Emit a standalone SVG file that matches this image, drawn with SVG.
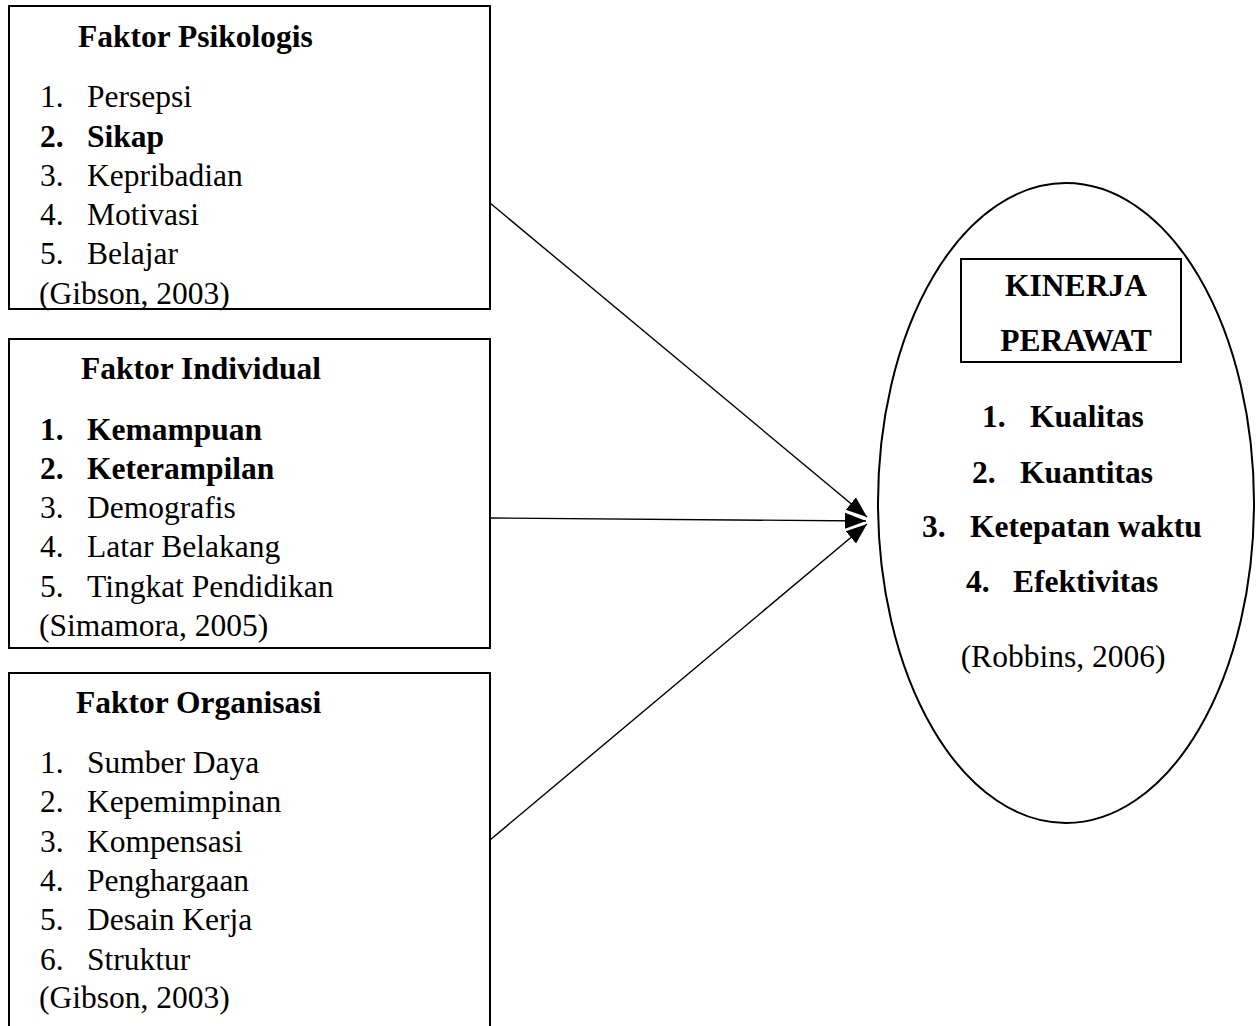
<svg xmlns="http://www.w3.org/2000/svg" width="1256" height="1026" viewBox="0 0 1256 1026">
<defs>
<style>
text{font-family:"Liberation Serif","Times New Roman",serif;font-size:31.5px;fill:#000}
.b{font-weight:bold}
.box{fill:#fff;stroke:#000;stroke-width:2}
.conn{stroke:#000;stroke-width:1.4;fill:none;marker-end:url(#ah)}
.c{text-anchor:middle}
</style>
<marker id="ah" markerUnits="userSpaceOnUse" markerWidth="24" markerHeight="20" refX="21" refY="9" orient="auto">
<path d="M0,1 L21,9 L0,17 Z" fill="#000"/>
</marker>
</defs>
<rect width="1256" height="1026" fill="#fff"/>
<g id="psikologis">
<rect class="box" x="9" y="6" width="481" height="303"/>
<text class="b" x="78" y="47">Faktor Psikologis</text>
<text x="40" y="107">1.</text><text x="87" y="107">Persepsi</text>
<text class="b" x="40" y="147">2.</text><text class="b" x="87" y="147">Sikap</text>
<text x="40" y="186">3.</text><text x="87" y="186">Kepribadian</text>
<text x="40" y="225">4.</text><text x="87" y="225">Motivasi</text>
<text x="40" y="264">5.</text><text x="87" y="264">Belajar</text>
<text x="39" y="304">(Gibson, 2003)</text>
</g>
<g id="individual">
<rect class="box" x="9" y="339" width="481" height="309"/>
<text class="b" x="81" y="379">Faktor Individual</text>
<text class="b" x="40" y="440">1.</text><text class="b" x="87" y="440">Kemampuan</text>
<text class="b" x="40" y="479">2.</text><text class="b" x="87" y="479">Keterampilan</text>
<text x="40" y="518">3.</text><text x="87" y="518">Demografis</text>
<text x="40" y="557">4.</text><text x="87" y="557">Latar Belakang</text>
<text x="40" y="597">5.</text><text x="87" y="597">Tingkat Pendidikan</text>
<text x="39" y="636">(Simamora, 2005)</text>
</g>
<g id="organisasi">
<rect class="box" x="9" y="673" width="481" height="370"/>
<text class="b" x="76" y="713">Faktor Organisasi</text>
<text x="40" y="773">1.</text><text x="87" y="773">Sumber Daya</text>
<text x="40" y="812">2.</text><text x="87" y="812">Kepemimpinan</text>
<text x="40" y="852">3.</text><text x="87" y="852">Kompensasi</text>
<text x="40" y="891">4.</text><text x="87" y="891">Penghargaan</text>
<text x="40" y="930">5.</text><text x="87" y="930">Desain Kerja</text>
<text x="40" y="970">6.</text><text x="87" y="970">Struktur</text>
<text x="39" y="1008">(Gibson, 2003)</text>
</g>
<g id="kinerja">
<ellipse cx="1066" cy="503" rx="188" ry="320" fill="#fff" stroke="#000" stroke-width="2"/>
<rect class="box" x="961" y="259" width="220" height="103"/>
<text class="b c" x="1076" y="296">KINERJA</text>
<text class="b c" x="1076" y="351">PERAWAT</text>
<text class="b" x="982" y="427">1.</text><text class="b" x="1030" y="427">Kualitas</text>
<text class="b" x="972" y="483">2.</text><text class="b" x="1020" y="483">Kuantitas</text>
<text class="b" x="922" y="537">3.</text><text class="b" x="970" y="537">Ketepatan waktu</text>
<text class="b" x="966" y="592">4.</text><text class="b" x="1013" y="592">Efektivitas</text>
<text class="c" x="1063" y="667">(Robbins, 2006)</text>
</g>
<g id="connectors">
<line class="conn" x1="490" y1="203" x2="867" y2="517"/>
<line class="conn" x1="490" y1="518" x2="866" y2="521"/>
<line class="conn" x1="490" y1="840" x2="867" y2="524"/>
</g>
</svg>
